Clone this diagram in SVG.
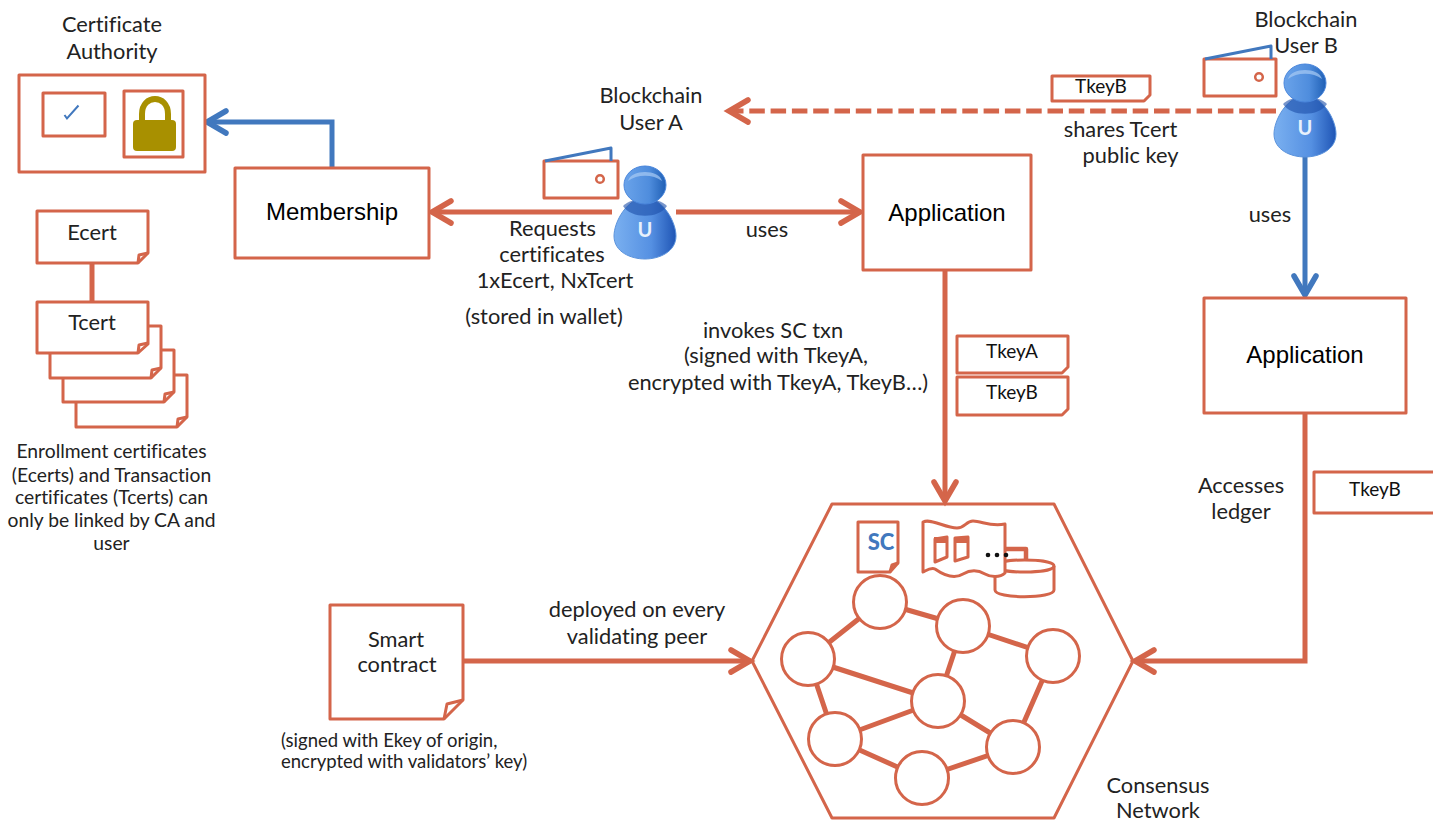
<svg xmlns="http://www.w3.org/2000/svg" width="1433" height="822" viewBox="0 0 1433 822">
<style>
text{font-family:"Lato","Carlito","Open Sans",sans-serif;font-size:21.8px;fill:#222;text-anchor:middle;font-variant-ligatures:none}
.ar{font-family:"Liberation Sans",Arial,sans-serif;font-size:24px;fill:#000}
.sm{font-size:18.5px;text-anchor:start}
.mid{font-size:19.3px}
.key{font-size:19px;fill:#111}
.b{fill:#fff;stroke:#d4654a;stroke-width:3;stroke-linejoin:round}
.t{fill:none;stroke:#d4654a;stroke-width:3;stroke-linejoin:round}
.c{fill:#fff;stroke:#d4654a;stroke-width:3}
.e{fill:none;stroke:#d4654a;stroke-width:5}
.o{fill:none;stroke:#d4654a;stroke-width:5}
.bl{fill:none;stroke:#4178be;stroke-width:5}
.w{fill:none;stroke:#4178be;stroke-width:3;stroke-linejoin:round}
</style>
<defs>
<marker id="ao" markerUnits="userSpaceOnUse" markerWidth="30" markerHeight="30" refX="25" refY="15" orient="auto" overflow="visible"><path d="M6 4L25 15L6 26" fill="none" stroke="#d4654a" stroke-width="5.500" stroke-linecap="round" stroke-linejoin="miter"/></marker>
<marker id="ab" markerUnits="userSpaceOnUse" markerWidth="30" markerHeight="30" refX="25" refY="15" orient="auto" overflow="visible"><path d="M6 4L25 15L6 26" fill="none" stroke="#4178be" stroke-width="5.500" stroke-linecap="round" stroke-linejoin="miter"/></marker>
<linearGradient id="hd" x1="0" x2="1" y1="0" y2="0"><stop offset="0" stop-color="#6aa3ea"/><stop offset=".6" stop-color="#4f8ddd"/><stop offset="1" stop-color="#1f5fb5"/></linearGradient>
<linearGradient id="bd" x1="0" x2="1" y1="0" y2="0"><stop offset="0" stop-color="#7ab0f0"/><stop offset=".6" stop-color="#5590e2"/><stop offset="1" stop-color="#1f55b5"/></linearGradient>
<g id="user">
<path d="M0 -32C-18 -32 -31 -8 -31 6C-31 22 -14 29 0 29C14 29 31 22 31 6C31 -8 18 -32 0 -32Z" fill="url(#bd)" stroke="#5b93dc" stroke-width="1"/>
<path d="M-22 -24C-14 -11 14 -11 22 -24C12 -34 -12 -34 -22 -24Z" fill="#1c4fa8" opacity=".6"/>
<ellipse cx="0" cy="-45" rx="21" ry="19" fill="url(#hd)" stroke="#4a86dc"/>
<path d="M-17 -49C-14 -61 14 -61 17 -49C8 -56 -8 -56 -17 -49Z" fill="#a8cbf3" opacity=".7"/>
<text x="0" y="7" style="font-weight:700;font-size:20px;fill:#e8f1fc">U</text>
</g>
<path id="fold" d="M-10 0L-9 -8L0 -10" class="t"/>
</defs>

<g id="connectors">
<path class="o" d="M612 212H432" marker-end="url(#ao)"/>
<path class="o" d="M676 212H860" marker-end="url(#ao)"/>
<path class="bl" d="M332 167V122H207" marker-end="url(#ab)"/>
<path class="o" d="M1276 111H729" stroke-dasharray="15.500 5.800" marker-end="url(#ao)"/>
<path class="bl" d="M1305 155V295" marker-end="url(#ab)"/>
<path class="o" d="M945 270V501" marker-end="url(#ao)"/>
<path class="o" d="M1305 413V661H1135" marker-end="url(#ao)"/>
<path class="o" d="M463 661H750" marker-end="url(#ao)"/>
<path class="o" d="M92 263V302"/>
</g>

<g id="certificate-authority">
<rect class="b" x="19" y="75" width="186" height="97"/>
<rect class="b" x="43" y="93" width="62" height="43"/>
<path d="M64.500 115L67 118.500L78.500 105.500" fill="none" stroke="#4178be" stroke-width="2"/>
<rect class="b" x="124" y="91" width="59" height="66"/>
<path d="M142 122V114C142 94 168 94 168 114V122" fill="none" stroke="#a89000" stroke-width="6"/>
<rect x="133" y="120" width="43" height="31" rx="4" fill="#a89000"/>
<text x="112" y="32">Certificate</text>
<text x="112" y="59">Authority</text>
</g>

<g id="membership"><rect class="b" x="235" y="168" width="194" height="90"/><text class="ar" x="332" y="220">Membership</text></g>
<g id="application-a"><rect class="b" x="863" y="155" width="168" height="115"/><text class="ar" x="947" y="221">Application</text></g>
<g id="application-b"><rect class="b" x="1204" y="298" width="202" height="115"/><text class="ar" x="1305" y="363">Application</text></g>

<g id="ecert"><path class="b" d="M37 211H148V253L138 263H37Z"/><use href="#fold" x="148" y="263"/><text x="92" y="240">Ecert</text></g>
<g id="tcert">
<path class="b" d="M76 375H187V417L177 427H76Z"/><use href="#fold" x="187" y="427"/>
<path class="b" d="M63 350H174V392L164 402H63Z"/><use href="#fold" x="174" y="402"/>
<path class="b" d="M50 326H161V368L151 378H50Z"/><use href="#fold" x="161" y="378"/>
<path class="b" d="M37 302H148V344L138 353H37Z"/><use href="#fold" x="148" y="353"/>
<text x="92" y="330">Tcert</text>
</g>

<g id="user-a">
<path class="b" d="M544 161H618V198H544Z"/>
<path class="w" d="M545 161L611 148V161"/>
<circle cx="600" cy="179" r="3.800" fill="#fff" stroke="#d4654a" stroke-width="2.500"/>
<use href="#user" x="645" y="230"/>
<text x="651" y="103">Blockchain</text>
<text x="651" y="130">User A</text>
</g>
<g id="user-b">
<path class="b" d="M1204 59H1276V96H1204Z"/>
<path class="w" d="M1205 59L1271 46V59"/>
<circle cx="1259" cy="77" r="3.800" fill="#fff" stroke="#d4654a" stroke-width="2.500"/>
<use href="#user" x="1305" y="128"/>
<text x="1306" y="27">Blockchain</text>
<text x="1306" y="53">User B</text>
</g>

<g id="key-b-top"><path class="b" d="M1052 76H1150V95L1144 101H1052Z"/><text class="key" x="1101" y="93">TkeyB</text></g>
<g id="key-a"><path class="b" d="M957 336H1068V367L1062 373H957Z"/><text class="key" x="1012" y="358">TkeyA</text></g>
<g id="key-b-mid"><path class="b" d="M957 377H1068V409L1062 415H957Z"/><text class="key" x="1012" y="399">TkeyB</text></g>
<g id="key-b-right"><path class="b" d="M1314 472H1440V513H1314Z"/><text class="key" x="1375" y="496">TkeyB</text></g>

<g id="smart-contract"><path class="b" d="M330 605H463V700L444 719H330Z"/><path class="t" d="M463 700L447 704L444 719"/><text x="396" y="647">Smart</text><text x="397" y="672">contract</text></g>

<g id="consensus-network">
<path class="t" d="M832 504H1054L1133 661L1054 818H832L752 661Z"/>
<g id="ledger-doc"><path class="b" d="M858 522H898V563L890 572H858Z"/><path class="t" d="M898 563L892 565L890 572"/><text x="881" y="550" style="font-weight:900;font-size:22px;fill:#4178be">SC</text></g>
<g id="ledger">
<path class="t" d="M1005 549H1026V562" style="stroke-width:4.500"/>
<path class="b" d="M995 566C995 558 1054 558 1054 566V590C1054 599 995 599 995 590Z"/>
<path class="t" d="M995 566C995 574 1054 574 1054 566"/>
<path class="b" d="M923 522C931 518 945 528 957 528C965 528 966 521 973 521C982 521 990 527 1005 524V573C1000 578 990 577 985 574C978 570 970 570 963 574C955 579 945 576 935 569C931 567 927 570 923 572Z"/>
<path class="t" d="M935 539L947 537V557L935 562Z M955 538L968 537V557L955 561Z"/>
<path d="M934 537H948V543H934Z M954 537H969V543H954Z" fill="#d4654a"/>
<circle cx="988" cy="555" r="2.300" fill="#111"/><circle cx="997" cy="555" r="2.300" fill="#111"/><circle cx="1006" cy="555" r="2.300" fill="#111"/>
</g>
<g id="edges">
<path class="e" d="M808 659L880 602M880 602L963 626M963 626L1053 656M808 659L938 701M963 626L938 701M1053 656L1013 747M808 659L835 739M835 739L938 701M938 701L1013 747M835 739L922 778M922 778L1013 747"/>
</g>
<g id="peers">
<circle class="c" cx="880" cy="602" r="26.500"/><circle class="c" cx="963" cy="626" r="26.500"/><circle class="c" cx="1053" cy="656" r="26.500"/><circle class="c" cx="808" cy="659" r="26.500"/><circle class="c" cx="938" cy="701" r="26.500"/><circle class="c" cx="835" cy="739" r="26.500"/><circle class="c" cx="1013" cy="747" r="26.500"/><circle class="c" cx="922" cy="778" r="26.500"/>
</g>
<text x="1158" y="793">Consensus</text>
<text x="1158" y="818">Network</text>
</g>

<g id="labels">
<text x="1120.500" y="137">shares Tcert</text>
<text x="1130.500" y="163">public key</text>
<text x="767" y="237">uses</text>
<text x="1270" y="222">uses</text>
<text x="552.500" y="236">Requests</text>
<text x="552" y="262">certificates</text>
<text x="555" y="288">1xEcert, NxTcert</text>
<text x="544" y="324">(stored in wallet)</text>
<text x="773" y="338">invokes SC txn</text>
<text x="776" y="363">(signed with TkeyA,</text>
<text x="778" y="390">encrypted with TkeyA, TkeyB…)</text>
<text x="1241" y="493">Accesses</text>
<text x="1241" y="519">ledger</text>
<text x="637" y="617">deployed on every</text>
<text x="637" y="644">validating peer</text>
<text class="sm" x="281" y="747">(signed with Ekey of origin,</text>
<text class="sm" x="281" y="768">encrypted with validators’ key)</text>
<text class="mid" x="111.500" y="458">Enrollment certificates</text>
<text class="mid" x="111.500" y="482">(Ecerts) and Transaction</text>
<text class="mid" x="111.500" y="504">certificates (Tcerts) can</text>
<text class="mid" x="111.500" y="527">only be linked by CA and</text>
<text class="mid" x="111.500" y="550">user</text>
</g>
</svg>
